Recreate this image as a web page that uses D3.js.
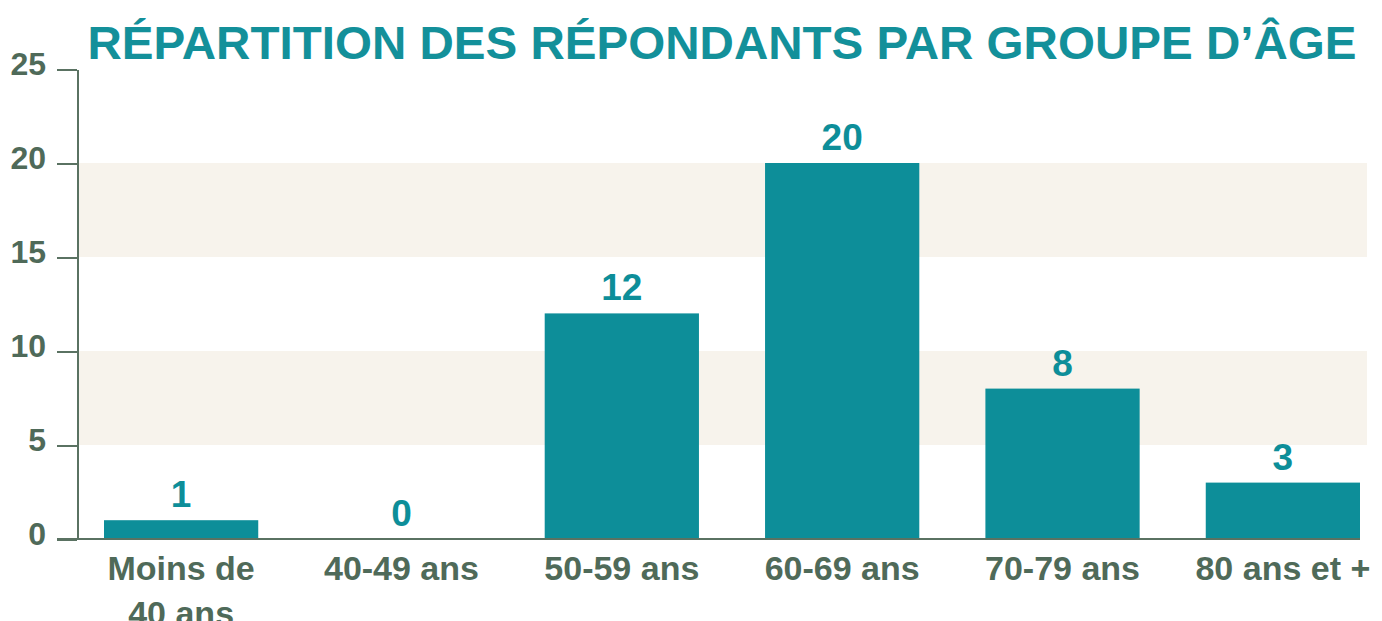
<!DOCTYPE html>
<html>
<head>
<meta charset="utf-8">
<style>
  body { margin: 0; background: #fff; }
  svg text { font-family: "Liberation Sans", Arial, sans-serif; font-weight: bold; }
  .axis path, .axis line { stroke: #5a7262; stroke-width: 2px; shape-rendering: crispEdges; }
  .axis text { fill: #4f6a59; font-size: 32px; }
</style>
<script src="https://d3js.org/d3.v7.min.js"></script>
</head>
<body>
<script>
var categories = ["Moins de|40 ans", "40-49 ans", "50-59 ans", "60-69 ans", "70-79 ans", "80 ans et +"];
var counts = [1, 0, 12, 20, 8, 3];
var yTicks = [0, 5, 10, 15, 20, 25];
var bands = [[5, 10], [15, 20]];
var title = "RÉPARTITION DES RÉPONDANTS PAR GROUPE D’ÂGE";

var teal = "#0d8e99";
var W = 1382, H = 621;
var plotLeft = 77, plotRight = 1367, plotTop = 69, plotBottom = 539;

var svg = d3.select("body").append("svg")
    .attr("width", W)
    .attr("height", H);

var y = d3.scaleLinear().domain([0, 25]).range([plotBottom, plotTop]);
var x = d3.scaleBand().domain(categories).range([104, 1360]).paddingInner(0.3).paddingOuter(0);

// shaded bands
svg.selectAll("rect.band").data(bands).enter().append("rect")
    .attr("class", "band")
    .attr("x", plotLeft)
    .attr("width", plotRight - plotLeft)
    .attr("y", function(d) { return y(d[1]); })
    .attr("height", function(d) { return y(d[0]) - y(d[1]); })
    .attr("fill", "#f7f3ec");

// bars
svg.selectAll("rect.bar").data(counts).enter().append("rect")
    .attr("class", "bar")
    .attr("x", function(d, i) { return x(categories[i]); })
    .attr("width", x.bandwidth())
    .attr("y", function(d) { return y(d); })
    .attr("height", function(d) { return plotBottom - y(d); })
    .attr("fill", teal);

// value labels
svg.selectAll("text.val").data(counts).enter().append("text")
    .attr("class", "val")
    .attr("x", function(d, i) { return x(categories[i]) + x.bandwidth() / 2; })
    .attr("y", function(d) { return y(d) - 13; })
    .attr("text-anchor", "middle")
    .attr("fill", teal)
    .style("font-size", "37px")
    .text(function(d) { return d; });

// y axis
var yAxis = svg.append("g")
    .attr("class", "axis")
    .attr("transform", "translate(" + plotLeft + ",0)")
    .call(d3.axisLeft(y).tickValues(yTicks).tickSize(20).tickPadding(11).tickSizeOuter(0));
yAxis.selectAll("text").attr("dy", "0.18em");

// x baseline
svg.append("line")
    .attr("x1", plotLeft - 20).attr("x2", 1360)
    .attr("y1", plotBottom).attr("y2", plotBottom)
    .attr("stroke", "#5a7262").attr("stroke-width", 2)
    .style("shape-rendering", "crispEdges");

// x labels
var xl = svg.selectAll("text.xl").data(categories).enter().append("text")
    .attr("class", "xl")
    .attr("x", function(d) { return x(d) + x.bandwidth() / 2; })
    .attr("y", 580)
    .attr("text-anchor", "middle")
    .attr("fill", "#4f6a59")
    .style("font-size", "34px");
xl.selectAll("tspan").data(function(d) { return d.split("|"); }).enter().append("tspan")
    .attr("x", function() { return d3.select(this.parentNode).attr("x"); })
    .attr("dy", function(d, i) { return i ? 45 : 0; })
    .text(function(d) { return d; });

// title
svg.append("text")
    .attr("x", 722)
    .attr("y", 59)
    .attr("text-anchor", "middle")
    .attr("fill", "#13909a")
    .attr("textLength", 1269)
    .attr("lengthAdjust", "spacingAndGlyphs")
    .style("font-size", "47px")
    .text(title);
</script>
</body>
</html>
